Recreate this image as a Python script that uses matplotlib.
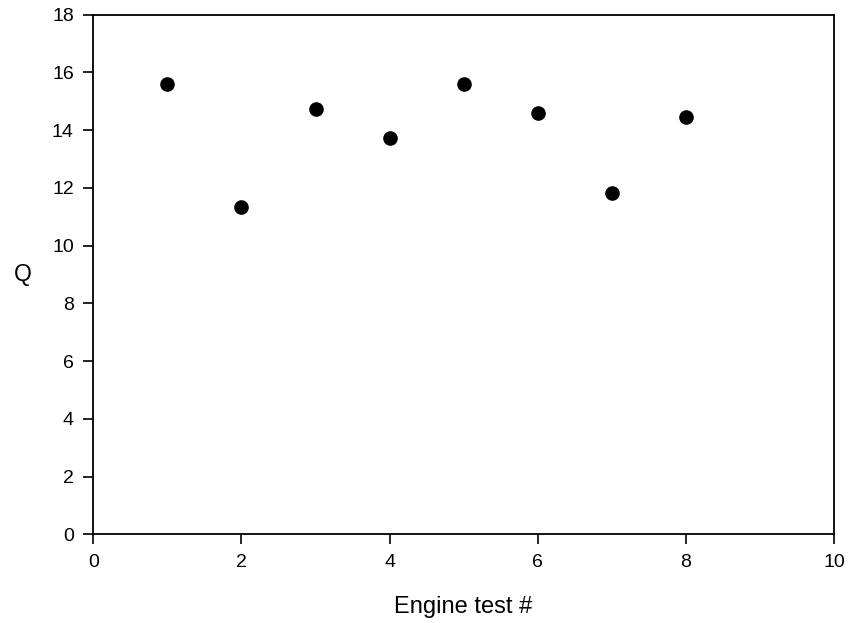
import matplotlib
matplotlib.use("Agg")
import matplotlib.pyplot as plt

test_num = [1, 2, 3, 4, 5, 6, 7, 8]
q_values = [15.59, 11.33, 14.72, 13.73, 15.61, 14.59, 11.81, 14.45]
x_ticks = [0, 2, 4, 6, 8, 10]
y_ticks = [0, 2, 4, 6, 8, 10, 12, 14, 16, 18]

plt.rcParams['font.family'] = ['Liberation Sans', 'DejaVu Sans']

fig = plt.figure(figsize=(8.5, 6.23), dpi=100)
ax = fig.add_axes([93.3/850, 1 - 534.3/623, (834 - 93.3)/850, (534.3 - 14.7)/623])
ax.plot(test_num, q_values, 'o', color='black', markersize=9.5, clip_on=False)
ax.set_xlim(0, 10)
ax.set_ylim(0, 18)
ax.set_xticks(x_ticks)
ax.set_yticks(y_ticks)
ax.tick_params(direction='out', length=7, width=1.2, labelsize=14, colors='black', pad=7)
for s in ax.spines.values():
    s.set_linewidth(1.3)
ax.set_xlabel('Engine test #', fontsize=17, labelpad=18)
ax.set_ylabel('Q', fontsize=16.5, labelpad=21, rotation=0, va='center')
fig.savefig('out.png', dpi=100)
